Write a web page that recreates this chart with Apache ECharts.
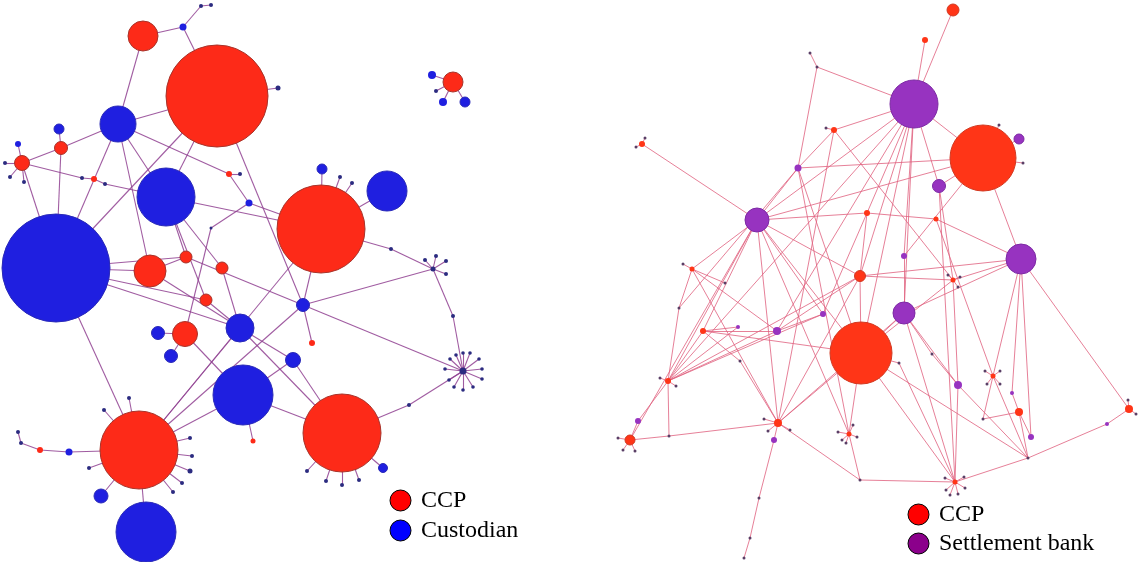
<!DOCTYPE html>
<html><head><meta charset="utf-8">
<script src="https://cdn.jsdelivr.net/npm/echarts@6/dist/echarts.min.js"></script>
<style>html,body{margin:0;padding:0;background:#fff}#c{width:1138px;height:562px}</style>
</head><body><div id="c"></div>
<script>
// ---------- DATA ----------
// node: [id, x, y, weight(radius), category]  category: 0 CCP, 1 Custodian / Settlement bank, 2 minor node
const leftLegend = ['CCP', 'Custodian'];
const rightLegend = ['CCP', 'Settlement bank'];

const leftNodes = [
 ['L1',217,96,51,0],['L2',143,36,15,0],['L3',118,124,18,1],['L4',183,27,3.5,1],['L5',201,6,2,2],['L6',211,5,2,2],
 ['L7',166,197,29,1],['L8',56,268,54,1],['L9',150,271,16,0],['L10',186,257,6,0],['L11',222,268,6,0],['L12',206,300,6,0],
 ['L13',240,328,14,1],['L14',185,334,12.5,0],['L15',158,333,6.5,1],['L16',171,356,6.5,1],['L17',243,395,30,1],
 ['L18',249,203,3.5,1],['L19',321,229,44,0],['L20',387,191,20,1],['L21',322,169,5,1],['L22',340,177,2,2],['L23',352,183,2,2],
 ['L24',303,305,6.5,1],['L25',312,343,3,0],['L26',293,360,7.5,1],['L27',433,269,2.5,2],['L28',463,371,3.5,2],
 ['L29',391,249,2,2],['L30',453,316,2,2],['L31',342,433,39,0],['L32',383,468,4.5,1],['L33',409,405,2,2],
 ['L34',139,450,39,0],['L35',146,532,30,1],['L36',101,496,7,1],['L37',22,163,7.5,0],['L38',61,148,6.5,0],
 ['L39',59,129,5,1],['L40',18,144,3,1],['L41',94,179,3,0],['L42',229,174,3,0],['L43',240,174,2,2],['L44',278,88,2.5,2],
 ['L45',253,441,2.5,0],['L46',211,228,1.5,2],['L47',105,184,2,2],['L48',82,178,2,2],
 ['L49',453,82,10,0],['L50',432,75,4,1],['L51',443,102,4,1],['L52',465,102,5,1],['L53',436,91,2,2],
 ['L54',129,398,2,2],['L55',104,410,2,2],['L56',190,438,2,2],['L57',192,456,2,2],['L58',190,471,2.5,2],['L59',182,483,2,2],['L60',173,492,2,2],['L61',89,468,2,2],
 ['L62',69,452,3.5,1],['L63',40,450,3,0],['L64',21,443,2,2],['L65',18,432,2,2],
 ['L66',307,471,2,2],['L67',326,481,2,2],['L68',342,485,2,2],['L69',359,480,2,2],
 ['L70',5,163,2,2],['L71',10,177,2,2],['L72',24,182,2,2],
 ['L73',425,260,2,2],['L74',436,256,2,2],['L75',446,261,2,2],['L76',446,274,2,2],
 ['S1',463,353,1.8,2],['S2',470,353,1.8,2],['S3',479,359,1.8,2],['S4',482,369,1.8,2],['S5',482,379,1.8,2],['S6',473,387,1.8,2],
 ['S7',463,390,1.8,2],['S8',454,387,1.8,2],['S9',449,380,1.8,2],['S10',445,369,1.8,2],['S11',450,359,1.8,2],['S12',456,355,1.8,2]
];
const leftLinks = [
 ['L2','L4'],['L4','L5'],['L5','L6'],['L4','L1'],['L2','L3'],['L3','L1'],['L3','L38'],['L38','L37'],['L38','L39'],
 ['L37','L40'],['L37','L70'],['L37','L71'],['L37','L72'],['L37','L48'],['L48','L41'],['L41','L47'],['L47','L7'],
 ['L37','L8'],['L38','L8'],['L3','L8'],['L1','L8'],['L3','L9'],['L3','L7'],['L3','L42'],['L42','L43'],['L42','L18'],
 ['L1','L7'],['L1','L24'],['L1','L44'],['L7','L10'],['L7','L12'],['L7','L11'],['L7','L19'],['L18','L19'],['L18','L46'],
 ['L46','L14'],['L8','L9'],['L8','L10'],['L8','L12'],['L8','L13'],['L8','L34'],['L9','L10'],['L11','L13'],['L10','L24'],
 ['L9','L13'],['L12','L13'],['L14','L17'],['L13','L26'],['L13','L34'],['L13','L31'],['L34','L19'],['L34','L24'],
 ['L34','L17'],['L34','L35'],['L34','L36'],['L34','L54'],['L34','L55'],['L34','L56'],['L34','L57'],['L34','L58'],
 ['L34','L59'],['L34','L60'],['L34','L61'],['L34','L62'],['L62','L63'],['L63','L64'],['L64','L65'],
 ['L17','L45'],['L17','L31'],['L26','L31'],['L26','L17'],['L31','L33'],['L33','L28'],['L31','L66'],['L31','L67'],
 ['L31','L68'],['L31','L69'],['L31','L32'],['L24','L27'],['L24','L28'],['L19','L29'],['L29','L27'],['L27','L30'],
 ['L30','L28'],['L24','L25'],['L24','L19'],['L19','L20'],['L19','L21'],['L19','L22'],['L19','L23'],['L14','L15'],
 ['L14','L16'],['L27','L73'],['L27','L74'],['L27','L75'],['L27','L76'],
 ['L28','S1'],['L28','S2'],['L28','S3'],['L28','S4'],['L28','S5'],['L28','S6'],['L28','S7'],['L28','S8'],['L28','S9'],
 ['L28','S10'],['L28','S11'],['L28','S12'],
 ['L49','L50'],['L49','L51'],['L49','L52'],['L49','L53']
];

const rightNodes = [
 ['R0',953,10,6,0],['R1',925,40,3,0],['R2',914,104,24,1],['R3',983,158,33,0],['R4',1019,139,5,1],['R5',939,186,6.5,1],
 ['R6',817,67,1.5,2],['R7',810,53,1.5,2],['R8',798,168,3.5,1],['R9',834,130,3,0],['R10',826,128,1.5,2],['R11',642,144,3,0],
 ['R12',757,220,12,1],['R13',1021,259,15,1],['R14',904,313,11,1],['R15',861,353,31,0],['R16',860,276,5.5,0],
 ['R17',867,213,3,0],['R18',904,256,3,1],['R19',936,219,2.5,0],['R20',953,280,2.5,0],['R21',823,314,3,1],
 ['R22',777,331,4,1],['R23',738,327,2,1],['R24',703,331,3,0],['R25',692,269,2.5,0],['R26',725,283,1.5,2],
 ['R27',679,308,1.5,2],['R28',740,361,1.5,2],['R29',668,381,3,0],['R30',630,440,5,0],['R31',638,421,3,1],
 ['R32',669,436,1.5,2],['R33',778,423,4,0],['R34',774,440,3,1],['R35',759,498,1.5,2],['R36',750,538,1.5,2],
 ['R37',744,558,1.5,2],['R38',849,434,2.5,0],['R39',860,480,1.5,2],['R40',955,482,2.5,0],['R41',1028,458,1.5,2],
 ['R42',1019,412,4,0],['R43',1031,437,3,1],['R44',1129,409,4,0],['R45',1107,424,2,1],['R46',958,385,4,1],
 ['R47',993,376,2.5,0],['R48',983,419,1.5,2],['R49',932,354,1.5,2],['R50',899,363,1.5,2],['R51',1023,163,1.5,2],
 ['R52',999,125,1.5,2],['R53',636,147,1.5,2],['R54',645,138,1.5,2],['R55',683,264,1.5,2],['R56',1012,393,2,1],
 ['T1',618,438,1.5,2],['T2',623,450,1.5,2],['T3',635,451,1.5,2],['T4',660,378,1.5,2],['T5',676,386,1.5,2],
 ['T6',838,432,1.5,2],['T7',842,440,1.5,2],['T8',857,437,1.5,2],['T9',853,425,1.5,2],['T10',846,443,1.5,2],
 ['T11',945,478,1.5,2],['T12',946,490,1.5,2],['T13',950,495,1.5,2],['T14',958,494,1.5,2],['T15',965,488,1.5,2],['T16',964,477,1.5,2],
 ['T17',985,371,1.5,2],['T18',1000,371,1.5,2],['T19',987,384,1.5,2],['T20',1000,384,1.5,2],
 ['T21',948,275,1.5,2],['T22',960,277,1.5,2],['T23',958,287,1.5,2],['T24',1128,400,1.5,2],['T25',1136,414,1.5,2],
 ['T26',764,419,1.5,2],['T27',768,431,1.5,2],['T28',790,430,1.5,2]
];
const rightLinks = [
 ['R0','R2'],['R1','R2'],['R6','R7'],['R6','R2'],['R6','R8'],['R9','R10'],['R9','R2'],['R9','R8'],['R9','R20'],
 ['R2','R3'],['R2','R5'],['R2','R12'],['R2','R15'],['R2','R16'],['R2','R17'],['R2','R18'],['R2','R22'],['R2','R29'],
 ['R2','R14'],['R3','R4'],['R3','R51'],['R3','R52'],['R3','R8'],['R3','R12'],['R3','R18'],['R3','R13'],['R3','R5'],
 ['R8','R12'],['R8','R15'],['R8','R27'],['R8','R38'],['R11','R53'],['R11','R54'],['R11','R12'],['R12','R17'],
 ['R12','R25'],['R12','R29'],['R12','R24'],['R12','R33'],['R12','R21'],['R12','R16'],['R12','R15'],['R12','R38'],
 ['R12','R30'],['R13','R44'],['R13','R47'],['R13','R16'],['R13','R19'],['R13','R20'],['R13','R14'],['R19','R17'],
 ['R15','R14'],['R15','R16'],['R15','R40'],['R15','R33'],['R15','R38'],['R15','R41'],['R15','R24'],['R16','R22'],
 ['R16','R29'],['R16','R17'],['R16','R20'],['R17','R21'],['R18','R14'],['R5','R20'],['R5','R40'],['R20','R46'],
 ['R20','R15'],['R14','R40'],['R14','R33'],['R25','R55'],['R25','R27'],['R27','R29'],['R25','R22'],['R25','R26'],
 ['R24','R22'],['R24','R23'],['R24','R29'],['R23','R29'],['R22','R29'],['R21','R29'],['R29','R31'],['R31','R30'],
 ['R30','R32'],['R32','R29'],['R32','R33'],['R33','R25'],['R33','R16'],['R33','R34'],['R34','R35'],['R35','R36'],
 ['R36','R37'],['R33','R39'],['R38','R39'],['R39','R40'],['R40','R41'],['R41','R45'],['R45','R44'],['R41','R46'],
 ['R41','R47'],['R41','R42'],['R42','R48'],['R42','R43'],['R46','R49'],['R46','R14'],['R47','R19'],['R40','R50'],
 ['R50','R15'],['R49','R14'],['R28','R24'],['R28','R33'],['R40','R46'],['R43','R13'],['R47','R48'],['R21','R22'],
 ['R42','R56'],['R56','R13'],['R9','R33'],
 ['R30','T1'],['R30','T2'],['R30','T3'],['R29','T4'],['R29','T5'],['R38','T6'],['R38','T7'],['R38','T8'],['R38','T9'],
 ['R38','T10'],['R40','T11'],['R40','T12'],['R40','T13'],['R40','T14'],['R40','T15'],['R40','T16'],['R47','T17'],
 ['R47','T18'],['R47','T19'],['R47','T20'],['R20','T21'],['R20','T22'],['R20','T23'],['R44','T24'],['R44','T25'],
 ['R33','T26'],['R33','T27'],['R33','T28']
];

// ---------- STYLE ----------
const leftColors = ['#fd2a18', '#1f1fe0', '#2b2b80'];
const leftBorders = ['#a8332a', '#2a2ab8', '#2b2b80'];
const rightColors = ['#ff3517', '#9733c0', '#5a3f66'];
const rightBorders = ['#d23a22', '#7d2aa4', '#5a3f66'];

function buildNodes(nodes, colors, borders) {
  return nodes.map(n => ({
    name: n[0],
    value: [n[1], n[2]],
    symbolSize: n[3] * 2,
    category: n[4],
    itemStyle: { color: colors[n[4]], borderColor: borders[n[4]], borderWidth: n[3] > 4 ? 1 : 0 }
  }));
}
function buildLinks(links) { return links.map(l => ({ source: l[0], target: l[1] })); }

const chart = echarts.init(document.getElementById('c'), null, { renderer: 'canvas' });
const legendText = { fontFamily: '"Liberation Serif", "Times New Roman", serif', fontSize: 24, color: '#000' };
chart.setOption({
  animation: false,
  backgroundColor: '#fff',
  grid: { left: 0, right: 0, top: 0, bottom: 0, containLabel: false },
  xAxis: { type: 'value', min: 0, max: 1138, show: false },
  yAxis: { type: 'value', min: 0, max: 562, inverse: true, show: false },
  legend: [
    { left: 389.5, top: 488.5, orient: 'vertical', padding: 0, itemWidth: 31, itemHeight: 21, itemGap: 6,
      icon: 'circle', selectedMode: false, textStyle: legendText,
      data: [
        { name: leftLegend[0], itemStyle: { color: '#ff0000', borderColor: '#000', borderWidth: 1 } },
        { name: leftLegend[1], itemStyle: { color: '#0000ff', borderColor: '#000', borderWidth: 1 } }
      ] },
    { left: 907.5, top: 502.5, orient: 'vertical', padding: 0, itemWidth: 31, itemHeight: 21, itemGap: 5,
      icon: 'circle', selectedMode: false, textStyle: legendText,
      data: [
        { name: rightLegend[0], itemStyle: { color: '#ff0000', borderColor: '#000', borderWidth: 1 } },
        { name: rightLegend[1], itemStyle: { color: '#8b008b', borderColor: '#000', borderWidth: 1 } }
      ] }
  ],
  series: [
    {
      type: 'graph', name: 'left', coordinateSystem: 'cartesian2d', layout: 'none',
      categories: [{ name: leftLegend[0], itemStyle: { color: leftColors[0] } },
                   { name: leftLegend[1], itemStyle: { color: leftColors[1] } },
                   { name: 'minor-left', itemStyle: { color: leftColors[2] } }],
      data: buildNodes(leftNodes, leftColors, leftBorders),
      links: buildLinks(leftLinks),
      lineStyle: { color: '#8f3f90', width: 1.1, opacity: 0.85, curveness: 0 },
      label: { show: false }, emphasis: { disabled: true }, silent: true
    },
    {
      type: 'graph', name: 'right', coordinateSystem: 'cartesian2d', layout: 'none',
      categories: [{ name: rightLegend[0], itemStyle: { color: rightColors[0] } },
                   { name: rightLegend[1], itemStyle: { color: rightColors[1] } },
                   { name: 'minor-right', itemStyle: { color: rightColors[2] } }],
      data: buildNodes(rightNodes, rightColors, rightBorders),
      links: buildLinks(rightLinks),
      lineStyle: { color: '#e0607e', width: 1, opacity: 0.8, curveness: 0 },
      label: { show: false }, emphasis: { disabled: true }, silent: true
    }
  ]
});
</script>
</body></html>
